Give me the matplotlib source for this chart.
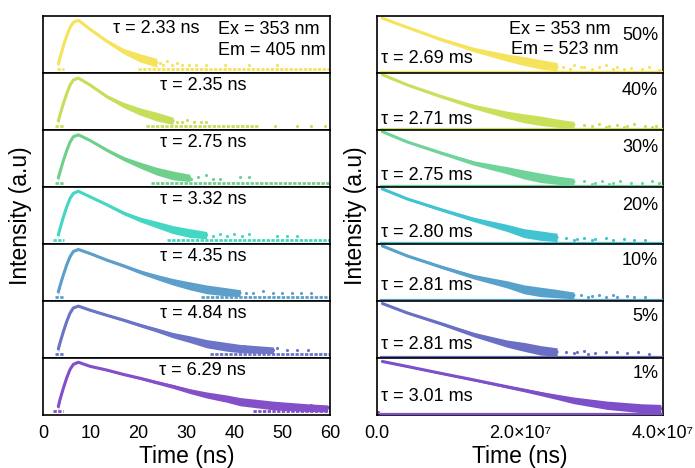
import matplotlib
matplotlib.use("Agg")
import matplotlib.pyplot as plt
import numpy as np

plt.rcParams["font.family"] = ["Liberation Sans", "DejaVu Sans"]

nan = np.nan

# ---- left column: Ex 353 nm / Em 405 nm, time in ns, log10 counts ----
left_tau = ["2.33", "2.35", "2.75", "3.32", "4.35", "4.84", "6.29"]
left_colors = ["#f6e35c", "#c6df5a", "#6fd08c", "#44d7c3", "#5b9fca", "#6c74c7", "#8450c9"]

left_t = [3.2, 3.55, 4.25, 4.95, 5.65, 6.35, 7.4, 9.8, 13.3, 16.8, 20.3, 23.8,
          27.2, 30.7, 34.2, 38.4, 41.2, 48.2, 55.1, 59.5]

left_logI = [
    [0.4, 0.92, 1.86, 2.7, 3.41, 3.83, 4.0, 3.27, 2.29, 1.46, 0.90, 0.49,
     nan, nan, nan, nan, nan, nan, nan, nan],
    [0.4, 0.9, 1.82, 2.65, 3.35, 3.78, 3.93, 3.37, 2.42, 1.72, 1.17, 0.75,
     0.40, nan, nan, nan, nan, nan, nan, nan],
    [0.4, 0.9, 1.82, 2.65, 3.35, 3.8, 3.95, 3.5, 2.7, 2.0, 1.45, 0.95,
     0.6, 0.4, nan, nan, nan, nan, nan, nan],
    [0.4, 0.92, 1.86, 2.7, 3.41, 3.83, 4.0, 3.55, 2.9, 2.21, 1.67, 1.25,
     0.83, 0.55, 0.38, nan, nan, nan, nan, nan],
    [0.4, 0.9, 1.8, 2.62, 3.3, 3.74, 3.9, 3.57, 3.03, 2.56, 2.05, 1.62,
     1.23, 0.9, 0.61, 0.4, 0.3, nan, nan, nan],
    [0.4, 0.9, 1.82, 2.65, 3.35, 3.78, 3.93, 3.6, 3.18, 2.78, 2.35, 1.95,
     1.53, 1.2, 0.83, 0.57, 0.43, 0.28, nan, nan],
    [0.35, 0.92, 1.86, 2.7, 3.41, 3.83, 4.0, 3.67, 3.36, 3.0, 2.68, 2.33,
     2.0, 1.62, 1.3, 1.0, 0.75, 0.43, 0.26, 0.2],
]

# half-width of the noisy band (log units)
left_spread = [
    [0.3, 0.18, 0.12, 0.09, 0.07, 0.06, 0.06, 0.07, 0.14, 0.22, 0.34, 0.36,
     nan, nan, nan, nan, nan, nan, nan, nan],
    [0.3, 0.18, 0.12, 0.09, 0.07, 0.06, 0.06, 0.07, 0.13, 0.22, 0.3, 0.36,
     0.3, nan, nan, nan, nan, nan, nan, nan],
    [0.3, 0.18, 0.12, 0.09, 0.07, 0.06, 0.06, 0.07, 0.12, 0.17, 0.25, 0.32,
     0.36, 0.3, nan, nan, nan, nan, nan, nan],
    [0.3, 0.18, 0.12, 0.09, 0.07, 0.06, 0.06, 0.07, 0.1, 0.14, 0.2, 0.27,
     0.33, 0.36, 0.3, nan, nan, nan, nan, nan],
    [0.3, 0.18, 0.12, 0.09, 0.07, 0.06, 0.06, 0.07, 0.08, 0.12, 0.16, 0.21,
     0.27, 0.33, 0.36, 0.34, 0.28, nan, nan, nan],
    [0.3, 0.18, 0.12, 0.09, 0.07, 0.06, 0.06, 0.07, 0.08, 0.1, 0.13, 0.17,
     0.22, 0.28, 0.34, 0.36, 0.34, 0.28, nan, nan],
    [0.3, 0.18, 0.12, 0.09, 0.07, 0.06, 0.06, 0.06, 0.07, 0.08, 0.1, 0.13,
     0.16, 0.2, 0.25, 0.3, 0.34, 0.36, 0.32, 0.28],
]

# isolated points above the background
left_tail_t = [
    [23.5, 24.5, 25, 26, 27, 28, 29, 30.5, 32, 34, 38, 43, 49],
    [25.5, 27, 28, 29, 30, 31.5, 33, 34, 48.5, 53, 56, 59],
    [28.5, 30, 31, 32.5, 34, 35.5, 37, 41.2, 43],
    [32, 33, 34, 35.5, 37, 38.5, 40, 41.5, 43, 49, 51, 53],
    [37.5, 39, 40, 41, 42.5, 44, 46, 48, 50, 52, 54, 56],
    [42, 43.5, 45, 47, 49, 51, 53, 55.5],
    [50, 52, 54, 56, 58, 59.5],
]
left_tail_y = [
    [0.6, 0.48, 0.3, 0.6, 0.3, 0.48, 0.3, 0.3, 0.3, 0.3, 0.3, 0.3, 0.3],
    [0.6, 0.48, 0.3, 0.3, 0.48, 0.3, 0.3, 0.3, 0.0, 0.0, 0.0, 0.0],
    [0.6, 0.48, 0.3, 0.48, 0.6, 0.3, 0.3, 0.48, 0.48],
    [0.6, 0.3, 0.48, 0.3, 0.48, 0.3, 0.48, 0.3, 0.48, 0.3, 0.3, 0.3],
    [0.6, 0.48, 0.3, 0.48, 0.3, 0.3, 0.48, 0.3, 0.3, 0.3, 0.3, 0.3],
    [0.6, 0.48, 0.3, 0.3, 0.48, 0.3, 0.3, 0.3],
    [0.48, 0.3, 0.3, 0.48, 0.3, 0.3],
]
# background rows (single counts): start, end
left_base = [
    [(3.0, 4.3), (19.8, 60)],
    [(2.5, 4.3), (21.5, 45)],
    [(2.5, 4.3), (22.5, 60)],
    [(2.0, 4.3), (26, 60)],
    [(2.5, 4.3), (33, 60)],
    [(2.5, 4.3), (35, 60)],
    [(2.0, 4.2), (44, 60)],
]

# ---- right column: Ex 353 nm / Em 523 nm ----
right_tau = ["2.69", "2.71", "2.75", "2.80", "2.81", "2.81", "3.01"]
right_pct = ["50%", "40%", "30%", "20%", "10%", "5%", "1%"]
right_colors = ["#f6e35c", "#c8e05a", "#70d49a", "#42c3d2", "#57a1cb", "#6a6fc6", "#7d4fc8"]

right_t = [0.075e7, 0.424e7, 0.89e7, 1.357e7, 1.823e7, 2.056e7, 2.29e7,
           2.52e7, 2.755e7, 3.22e7, 3.69e7, 3.97e7]

right_logI = [
    [3.84, 3.18, 2.32, 1.58, 1.0, 0.76, 0.52, 0.35, nan, nan, nan, nan],
    [3.88, 3.14, 2.32, 1.58, 0.99, 0.74, 0.56, 0.39, 0.27, nan, nan, nan],
    [3.88, 3.14, 2.36, 1.62, 1.1, 0.8, 0.56, 0.39, 0.28, nan, nan, nan],
    [3.86, 3.14, 2.38, 1.66, 1.05, 0.68, 0.5, 0.37, nan, nan, nan, nan],
    [3.86, 3.14, 2.36, 1.64, 1.09, 0.74, 0.55, 0.43, 0.3, nan, nan, nan],
    [3.82, 3.14, 2.38, 1.58, 0.93, 0.7, 0.45, 0.33, nan, nan, nan, nan],
    [3.75, 3.39, 2.9, 2.42, 1.93, 1.69, 1.44, 1.2, 0.95, 0.6, 0.39, 0.36],
]
right_spread = [
    [0.05, 0.06, 0.1, 0.16, 0.26, 0.32, 0.34, 0.3, nan, nan, nan, nan],
    [0.05, 0.06, 0.1, 0.16, 0.26, 0.32, 0.34, 0.3, 0.24, nan, nan, nan],
    [0.05, 0.06, 0.1, 0.16, 0.26, 0.32, 0.34, 0.3, 0.24, nan, nan, nan],
    [0.05, 0.06, 0.1, 0.16, 0.26, 0.32, 0.34, 0.3, nan, nan, nan, nan],
    [0.05, 0.06, 0.1, 0.16, 0.26, 0.32, 0.34, 0.3, 0.24, nan, nan, nan],
    [0.05, 0.06, 0.1, 0.16, 0.26, 0.32, 0.34, 0.3, nan, nan, nan, nan],
    [0.04, 0.05, 0.06, 0.07, 0.1, 0.12, 0.15, 0.19, 0.24, 0.3, 0.32, 0.3],
]
right_tail_t = [
    [2.6e7, 2.7e7, 2.75e7, 2.85e7, 2.9e7, 3.0e7, 3.1e7, 3.2e7, 3.3e7, 3.35e7,
     3.45e7, 3.55e7, 3.7e7, 3.8e7, 3.95e7],
    [2.9e7, 3.0e7, 3.1e7, 3.2e7, 3.25e7, 3.35e7, 3.45e7, 3.5e7, 3.6e7, 3.75e7,
     3.85e7, 3.9e7],
    [2.9e7, 3.0e7, 3.05e7, 3.15e7, 3.25e7, 3.3e7, 3.4e7, 3.55e7, 3.7e7, 3.85e7,
     3.95e7],
    [2.65e7, 2.75e7, 2.8e7, 2.9e7, 3.0e7, 3.05e7, 3.2e7, 3.3e7, 3.45e7, 3.6e7,
     3.75e7],
    [2.85e7, 2.95e7, 3.0e7, 3.1e7, 3.2e7, 3.3e7, 3.35e7, 3.5e7, 3.6e7, 3.75e7],
    [2.65e7, 2.75e7, 2.8e7, 2.9e7, 2.95e7, 3.05e7, 3.2e7, 3.35e7, 3.5e7, 3.65e7,
     3.8e7],
    [0.02e7],
]
right_tail_y = [
    [0.3, 0.2, 0.45, 0.3, 0.3, 0.2, 0.3, 0.45, 0.2, 0.3, 0.2, 0.25, 0.2, 0.3, 0.15],
    [0.25, 0.2, 0.3, 0.15, 0.2, 0.25, 0.15, 0.2, 0.3, 0.2, 0.15, 0.2],
    [0.3, 0.15, 0.2, 0.3, 0.15, 0.2, 0.3, 0.2, 0.2, 0.3, 0.2],
    [0.3, 0.2, 0.25, 0.35, 0.2, 0.25, 0.3, 0.2, 0.25, 0.2, 0.2],
    [0.3, 0.2, 0.25, 0.3, 0.2, 0.3, 0.2, 0.25, 0.2, 0.2],
    [0.35, 0.25, 0.3, 0.4, 0.2, 0.25, 0.3, 0.35, 0.25, 0.3, 0.2],
    [0.15],
]

# label placement (axes fractions)
right_tau_y = [0.25, 0.19, 0.2, 0.21, 0.27, 0.245, 0.32]
right_pct_y = [0.65, 0.69, 0.70, 0.67, 0.71, 0.72, 0.72]

FS_TXT = 13
FS_TICK = 13
FS_LAB = 16.5


def draw_panel(ax, t, logI, spread, tail_t, tail_y, color):
    t = np.asarray(t, dtype=float)
    y = np.asarray(logI, dtype=float)
    s = np.asarray(spread, dtype=float)
    ax.fill_between(t, y - s, y + s, color=color, lw=0, zorder=2)
    ax.plot(t, y, color=color, lw=2.2, solid_capstyle="round", zorder=2)
    ax.scatter(tail_t, tail_y, s=5, color=color, lw=0, zorder=2)


def style_axes(ax, bottom):
    for sp in ax.spines.values():
        sp.set_linewidth(1.2)
        sp.set_color("black")
    ax.set_yticks([])
    ax.tick_params(axis="x", length=0, labelsize=FS_TICK, pad=7)
    if not bottom:
        ax.set_xticklabels([])


fig = plt.figure(figsize=(6.95, 4.68), dpi=100)

n = 7
top = 1 - 16 / 468
ph = 57 / 468
lx, lw_ = 43 / 695, 287 / 695
rx, rw_ = 377 / 695, 286 / 695

for i in range(n):
    y0 = top - (i + 1) * ph
    bottom = i == n - 1

    # left
    ax = fig.add_axes([lx, y0, lw_, ph])
    draw_panel(ax, left_t, left_logI[i], left_spread[i],
               left_tail_t[i], left_tail_y[i], left_colors[i])
    for s0, s1 in left_base[i]:
        ax.plot([s0, s1], [0, 0], color=left_colors[i], lw=2,
                ls=(0, (1.2, 0.5)), zorder=2)
    ax.set_xlim(0, 60)
    ax.set_ylim(-0.35, 4.35)
    ax.set_xticks([0, 10, 20, 30, 40, 50, 60])
    style_axes(ax, bottom)
    if i == 0:
        ax.text(0.243, 0.78, "\u03c4 = " + left_tau[i] + " ns", transform=ax.transAxes,
                ha="left", va="center", fontsize=FS_TXT)
        ax.text(0.61, 0.77, "Ex = 353 nm", transform=ax.transAxes,
                ha="left", va="center", fontsize=FS_TXT)
        ax.text(0.61, 0.39, "Em = 405 nm", transform=ax.transAxes,
                ha="left", va="center", fontsize=FS_TXT)
    else:
        ax.text(0.557, 0.78, "\u03c4 = " + left_tau[i] + " ns", transform=ax.transAxes,
                ha="center", va="center", fontsize=FS_TXT)
    if bottom:
        ax.set_xlabel("Time (ns)", fontsize=FS_LAB, labelpad=2)

    # right
    ax = fig.add_axes([rx, y0, rw_, ph])
    draw_panel(ax, right_t, right_logI[i], right_spread[i],
               right_tail_t[i], right_tail_y[i], right_colors[i])
    ax.plot([0.05e7, 4.0e7], [0, 0], color=right_colors[i], lw=1.6, zorder=3)
    ax.set_xlim(0, 4.0e7)
    ax.set_ylim(-0.1, 4.0)
    ax.set_xticks([0, 2.0e7, 4.0e7])
    ax.set_xticklabels(["0.0", "2.0\u00d710\u2077", "4.0\u00d710\u2077"])
    style_axes(ax, bottom)
    ax.text(0.014, right_tau_y[i], "\u03c4 = " + right_tau[i] + " ms", transform=ax.transAxes,
            ha="left", va="center", fontsize=FS_TXT)
    ax.text(0.983, right_pct_y[i], right_pct[i], transform=ax.transAxes,
            ha="right", va="center", fontsize=FS_TXT)
    if i == 0:
        ax.text(0.46, 0.77, "Ex = 353 nm", transform=ax.transAxes,
                ha="left", va="center", fontsize=FS_TXT)
        ax.text(0.467, 0.42, "Em = 523 nm", transform=ax.transAxes,
                ha="left", va="center", fontsize=FS_TXT)
    if bottom:
        ax.set_xlabel("Time (ns)", fontsize=FS_LAB, labelpad=2)

mid = top - 3.5 * ph
fig.text(21 / 695, mid, "Intensity (a.u)", rotation=90, ha="center", va="center",
         fontsize=FS_LAB)
fig.text(356 / 695, mid, "Intensity (a.u)", rotation=90, ha="center", va="center",
         fontsize=FS_LAB)

fig.savefig("out.png", dpi=100)
